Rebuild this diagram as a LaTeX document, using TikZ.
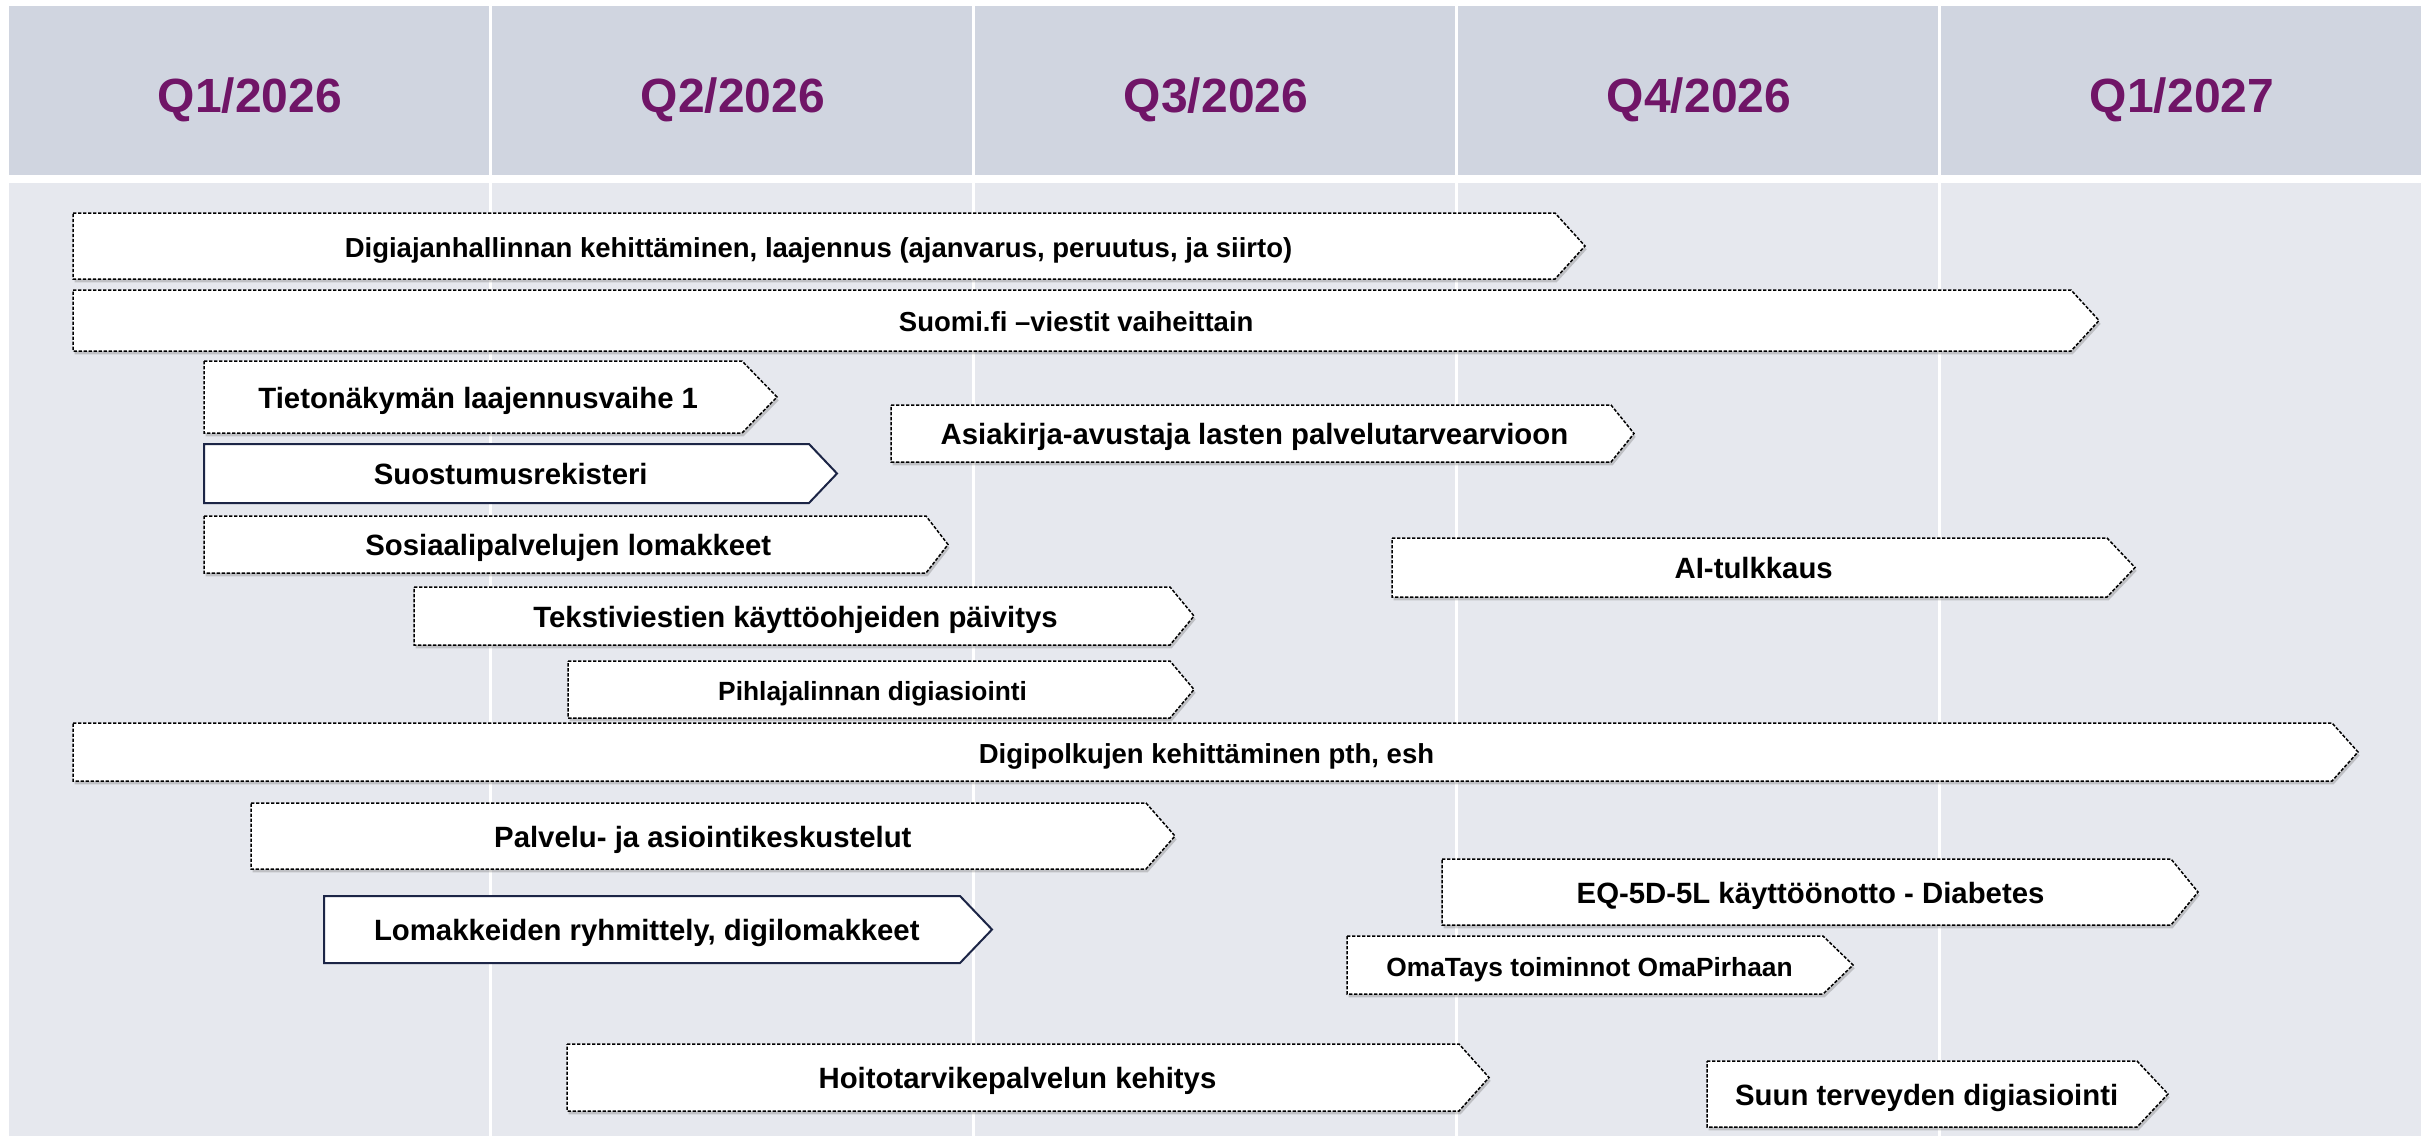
\documentclass[tikz,border=0pt]{standalone}
\usepackage{fontspec}
\setmainfont{Liberation Sans}
\usetikzlibrary{shadows}
\definecolor{hdr}{RGB}{208,213,224}
\definecolor{bdy}{RGB}{230,232,238}
\definecolor{qpurple}{RGB}{112,21,103}
\definecolor{navyline}{RGB}{28,37,70}
% #1 name, #2 box style, #3 x1, #4 y1, #5 x2 (tip), #6 y2, #7 tip depth, #8 font style, #9 text
\newcommand{\chev}[9]{%
  \path[#2] (#3,#4) -- ({#5-#7},#4) -- (#5,{(#4+#6)/2}) -- ({#5-#7},#6) -- (#3,#6) -- cycle;
  \node[lbl,#8] (#1) at ({(#3+#5-0.7*#7)/2},{(#4+#6)/2+11}) {#9};
}
\begin{document}
\begin{tikzpicture}[x=0.3pt,y=-0.3pt,
  hdrcell/.style={fill=hdr},
  bdycell/.style={fill=bdy},
  qlbl/.style={anchor=base,text=qpurple,font=\fontsize{14.4}{16}\selectfont\bfseries,inner sep=0pt},
  lbl/.style={anchor=base,text=black,inner sep=0pt},
  tbig/.style={font=\fontsize{8.8}{10.5}\selectfont\bfseries},
  tmid/.style={font=\fontsize{8.25}{10}\selectfont\bfseries},
  tsmall/.style={font=\fontsize{7.9}{9.5}\selectfont\bfseries},
  dashbox/.style={fill=white,draw=black,line width=0.45pt,dash pattern=on 1pt off 0.5pt,
    drop shadow={shadow xshift=0.5pt,shadow yshift=-1pt,opacity=0.3,fill=black!60}},
  solidbox/.style={fill=white,draw=navyline,line width=0.6pt,line join=miter}
]
\useasboundingbox (0,0) rectangle (2425,1136);
\fill[white] (0,0) rectangle (2425,1136);
% columns
\foreach \xa in {9,492,975,1458,1941}{
  \fill[hdrcell] (\xa,6) rectangle (\xa+480,175);
  \fill[bdycell] (\xa,183) rectangle (\xa+480,1136);
}
\node[qlbl] (q1) at (250,112) {Q1/2026};
\node[qlbl] (q2) at (733,112) {Q2/2026};
\node[qlbl] (q3) at (1216,112) {Q3/2026};
\node[qlbl] (q4) at (1699,112) {Q4/2026};
\node[qlbl] (q5) at (2182,112) {Q1/2027};
% bars
\chev{digi}{dashbox}{73}{213}{1585}{279}{30}{tmid}{Digiajanhallinnan kehittäminen, laajennus (ajanvarus, peruutus, ja siirto)}
\chev{suomi}{dashbox}{73}{290}{2099}{351}{28}{tmid}{Suomi.fi –viestit vaiheittain}
\chev{tieto}{dashbox}{204}{361}{777}{433}{35}{tbig}{Tietonäkymän laajennusvaihe 1}
\chev{suost}{solidbox}{204}{444}{837}{503}{28}{tbig}{Suostumusrekisteri}
\chev{sosi}{dashbox}{204}{516}{948}{573}{22}{tbig}{Sosiaalipalvelujen lomakkeet}
\chev{asia}{dashbox}{891}{405}{1634}{462}{23}{tbig}{Asiakirja-avustaja lasten palvelutarvearvioon}
\chev{teksti}{dashbox}{414}{587}{1194}{645}{24}{tbig}{Tekstiviestien käyttöohjeiden päivitys}
\chev{pihla}{dashbox}{568}{661}{1194}{718}{24}{tsmall}{Pihlajalinnan digiasiointi}
\chev{ai}{dashbox}{1392}{538}{2135}{597}{28}{tbig}{AI-tulkkaus}
\chev{digipol}{dashbox}{73}{723}{2358}{781}{26}{tmid}{Digipolkujen kehittäminen pth, esh}
\chev{palvelu}{dashbox}{251}{803}{1175}{869}{29}{tbig}{Palvelu- ja asiointikeskustelut}
\chev{lomak}{solidbox}{324}{896}{992}{963}{32}{tbig}{Lomakkeiden ryhmittely, digilomakkeet}
\chev{eq}{dashbox}{1442}{859}{2198}{925}{27}{tbig}{EQ-5D-5L käyttöönotto - Diabetes}
\chev{oma}{dashbox}{1347}{936}{1853}{994}{30}{tsmall}{OmaTays toiminnot OmaPirhaan}
\chev{hoito}{dashbox}{567}{1044}{1489}{1111}{30}{tbig}{Hoitotarvikepalvelun kehitys}
\chev{suun}{dashbox}{1707}{1061}{2168}{1127}{31}{tbig}{Suun terveyden digiasiointi}
\end{tikzpicture}
\end{document}
